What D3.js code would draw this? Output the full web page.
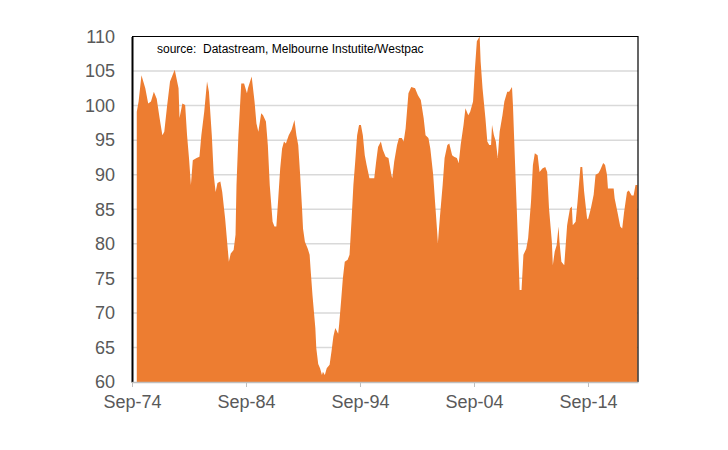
<!DOCTYPE html>
<html>
<head>
<meta charset="utf-8">
<script src="https://cdn.jsdelivr.net/npm/d3@7"></script>
<style>
  body { margin: 0; background: #fff; }
  text { font-family: "Liberation Sans", Arial, sans-serif; }
</style>
</head>
<body>
<div id="chart"></div>
<script>
var width = 728,
    height = 450;

// Consumer sentiment index
var months = [
  '1975-02','1975-04','1975-07','1975-11','1976-02','1976-05','1976-08','1976-11',
  '1977-02','1977-05','1977-07','1977-10','1978-01','1978-06','1978-10','1978-11',
  '1979-02','1979-05','1979-07','1979-09','1979-11','1980-01','1980-05','1980-08',
  '1980-10','1981-01','1981-04','1981-06','1981-09','1981-11','1982-01','1982-03',
  '1982-06','1982-08','1982-11','1983-02','1983-03','1983-05','1983-08','1983-10',
  '1983-11','1984-01','1984-03','1984-04','1984-07','1984-10','1984-11','1985-03',
  '1985-06','1985-08','1985-10','1986-01','1986-03','1986-06','1986-08','1986-10',
  '1987-01','1987-03','1987-05','1987-07','1987-09','1987-11','1988-01','1988-03',
  '1988-06','1988-09','1988-12','1989-02','1989-04','1989-06','1989-08','1989-09',
  '1989-11','1990-02','1990-04','1990-05','1990-07','1990-10','1990-11','1991-01',
  '1991-03','1991-05','1991-06','1991-08','1991-10','1992-01','1992-03','1992-05',
  '1992-07','1992-10','1992-11','1993-01','1993-03','1993-05','1993-08','1993-10',
  '1993-12','1994-02','1994-04','1994-06','1994-08','1994-10','1994-12','1995-02',
  '1995-04','1995-07','1995-09','1995-12','1996-02','1996-04','1996-07','1996-09',
  '1996-12','1997-03','1997-06','1997-07','1997-09','1997-12','1998-02','1998-05',
  '1998-07','1998-09','1998-12','1999-03','1999-07','1999-10','2000-01','2000-04',
  '2000-06','2000-09','2000-11','2001-02','2001-04','2001-06','2001-07','2001-09',
  '2001-12','2002-02','2002-05','2002-07','2002-10','2002-12','2003-03','2003-05',
  '2003-07','2003-10','2003-12','2004-03','2004-05','2004-08','2004-10','2004-12',
  '2005-03','2005-04','2005-06','2005-09','2005-11','2006-01','2006-03','2006-04',
  '2006-06','2006-08','2006-10','2006-12','2007-03','2007-05','2007-08','2007-10',
  '2008-01','2008-02','2008-04','2008-06','2008-08','2008-09','2008-11','2009-01',
  '2009-04','2009-06','2009-09','2009-11','2010-01','2010-04','2010-06','2010-09',
  '2010-12','2011-02','2011-04','2011-07','2011-08','2011-10','2011-12','2012-02',
  '2012-03','2012-05','2012-08','2012-11','2012-12','2013-02','2013-04','2013-05',
  '2013-08','2013-10','2014-01','2014-03','2014-05','2014-08','2014-09','2014-12',
  '2015-03','2015-05','2015-08','2015-10','2016-01','2016-03','2016-05','2016-06',
  '2016-09','2016-12','2017-01','2017-04','2017-07','2017-09','2017-11','2018-02',
  '2018-04','2018-07','2018-09','2018-11','2019-01'
];
var values = [
  99.1,100.6,104.4,102.5,100.3,100.6,102.0,101.0,
  98.2,95.7,96.2,100.0,103.5,105.2,102.5,98.2,
  100.3,100.1,95.7,92.4,88.5,92.1,92.4,92.6,
  95.7,99.1,103.5,102.0,95.7,90.0,87.5,88.8,
  89.0,87.5,83.7,78.9,77.4,78.6,79.1,81.3,
  88.5,95.7,100.6,103.2,103.2,101.8,102.5,104.2,
  100.6,97.4,96.2,98.9,98.6,97.7,94.3,88.5,
  83.2,82.5,82.5,86.6,90.9,93.8,94.8,94.5,
  95.7,96.5,97.9,95.7,94.3,90.0,85.1,82.2,
  80.3,79.3,78.4,76.4,72.6,67.8,64.9,62.6,
  62.0,61.0,61.5,61.0,62.0,62.5,64.4,66.6,
  67.8,67.0,68.3,71.6,75.0,77.4,77.7,78.4,
  83.2,88.5,91.9,95.7,97.2,97.2,95.7,92.8,
  91.4,89.5,89.5,89.5,91.9,94.0,94.8,93.6,
  92.6,92.4,90.0,89.5,91.9,94.3,95.3,95.3,
  94.8,96.7,101.8,102.7,102.5,101.5,100.8,98.2,
  95.7,95.3,93.8,90.0,86.1,82.2,80.1,83.7,
  88.5,92.4,94.3,94.5,92.8,92.6,92.4,91.7,
  94.3,97.2,99.6,98.6,99.1,100.6,105.4,109.3,
  110.0,106.4,102.5,98.2,94.8,94.3,94.3,97.2,
  95.7,94.8,92.4,96.2,98.6,100.6,102.0,102.0,
  102.7,100.0,92.4,85.1,77.4,73.3,73.3,78.4,
  79.3,80.8,86.1,91.4,93.1,92.8,90.4,90.9,
  91.1,90.4,85.1,80.3,76.9,78.9,79.8,82.5,
  80.3,77.4,76.9,82.7,83.5,85.1,85.4,82.7,
  83.2,86.1,91.1,91.1,87.5,83.7,83.5,85.1,
  87.1,90.0,90.2,90.7,91.7,91.4,90.0,88.0,
  88.0,88.0,86.6,84.6,82.5,82.2,84.6,87.5,
  87.7,87.0,87.0,88.5,88.5
];
var yTicks = [60, 65, 70, 75, 80, 85, 90, 95, 100, 105, 110];
var xTicks = ['1974-09', '1984-09', '1994-09', '2004-09', '2014-09'];
var source = 'source:  Datastream, Melbourne Instutite/Westpac';

var parse = d3.timeParse('%Y-%m');
var data = months.map(function(m, i) { return {date: parse(m), value: values[i]}; });

var plotLeft = 132, plotRight = 638, plotTop = 36.5, plotBottom = 382;

var x = d3.scaleTime()
    .domain([parse('1974-09'), new Date(2019, 0, 20)])
    .range([plotLeft, plotRight]);
var y = d3.scaleLinear()
    .domain([60, 110])
    .range([plotBottom, plotTop]);

var svg = d3.select('#chart').append('svg')
    .attr('width', width)
    .attr('height', height);

// gridlines
svg.append('g').selectAll('line')
    .data(yTicks.filter(function(d) { return d > 60 && d < 110; }))
  .enter().append('line')
    .attr('x1', plotLeft).attr('x2', plotRight)
    .attr('y1', function(d) { return y(d); })
    .attr('y2', function(d) { return y(d); })
    .attr('stroke', '#d9d9d9')
    .attr('stroke-width', 1.5);

var area = d3.area()
    .x(function(d) { return x(d.date); })
    .y0(y(60))
    .y1(function(d) { return y(d.value); });

svg.append('path')
    .datum(data)
    .attr('d', area)
    .attr('fill', '#ED7D31');

// frame on top/right
svg.append('path')
    .attr('d', 'M' + plotLeft + ',' + plotTop + 'H' + plotRight + 'V' + plotBottom)
    .attr('fill', 'none')
    .attr('stroke', '#000')
    .attr('stroke-width', 1.2);

// y axis
var yAxis = svg.append('g')
    .attr('transform', 'translate(' + plotLeft + ',0)')
    .call(d3.axisLeft(y).tickValues(yTicks).tickSize(0).tickPadding(17));
yAxis.select('.domain').attr('stroke', '#000').attr('stroke-width', 2);
yAxis.selectAll('text')
    .attr('fill', '#595959')
    .style('font-size', '18px');

// x axis
var xAxis = svg.append('g')
    .attr('transform', 'translate(0,' + plotBottom + ')')
    .call(d3.axisBottom(x)
        .tickValues(xTicks.map(parse))
        .tickFormat(d3.timeFormat('%b-%y'))
        .tickSize(5)
        .tickSizeOuter(0)
        .tickPadding(8));
xAxis.select('.domain').attr('stroke', '#bfbfbf').attr('stroke-width', 1.5);
xAxis.selectAll('line').attr('stroke', '#bfbfbf');
xAxis.selectAll('text')
    .attr('fill', '#595959')
    .style('font-size', '18px');

svg.append('text')
    .attr('x', 157)
    .attr('y', 53)
    .style('font-size', '12px')
    .style('white-space', 'pre')
    .attr('fill', '#000')
    .text(source);
</script>
</body>
</html>
